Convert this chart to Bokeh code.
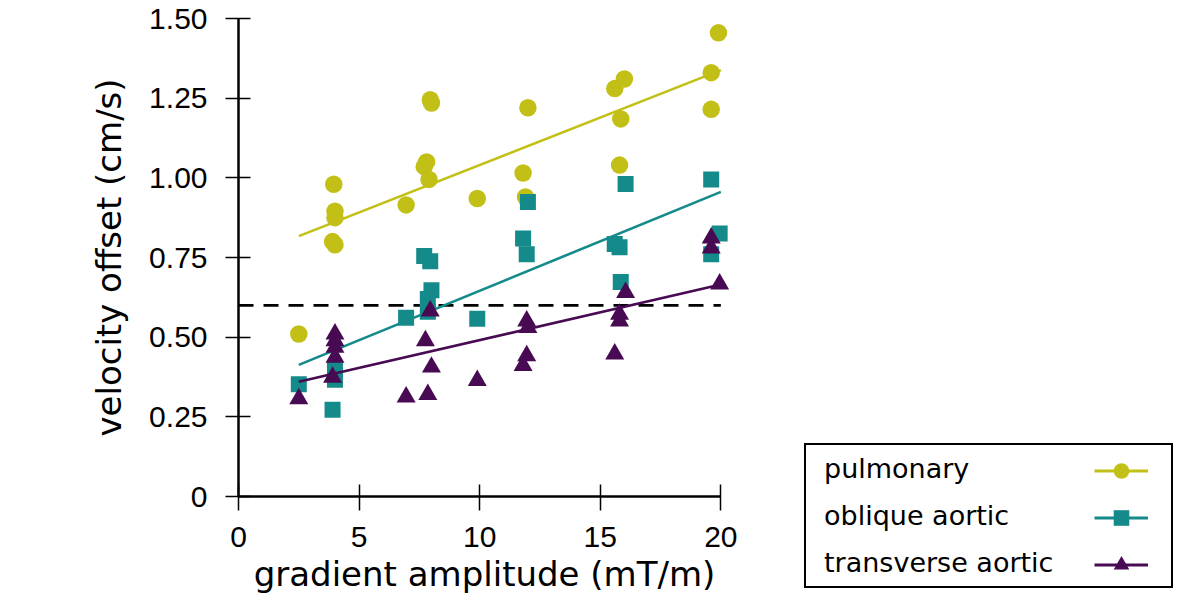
from bokeh.plotting import figure
from bokeh.layouts import row
from bokeh.models import Range1d, FixedTicker, Legend, LegendItem
from bokeh.embed import file_html
from bokeh.resources import INLINE

# ---- data ----
series_names = ["pulmonary", "oblique aortic", "transverse aortic"]

pulm_x = [2.5, 3.95, 4.0, 4.0, 3.9, 4.0, 6.95, 7.95, 8.0, 7.8, 7.7, 7.9, 9.9,
          12.0, 11.8, 11.9, 16.0, 15.6, 15.85, 15.8, 19.9, 19.6, 19.6]
pulm_y = [0.51, 0.98, 0.895, 0.875, 0.80, 0.79, 0.915, 1.245, 1.235, 1.05, 1.035, 0.995, 0.935,
          1.22, 1.015, 0.94, 1.31, 1.28, 1.185, 1.04, 1.455, 1.33, 1.215]

obl_x = [2.5, 3.9, 4.0, 4.0, 6.95, 7.7, 7.95, 8.0, 7.85, 7.85, 9.9,
         12.0, 11.8, 11.95, 16.05, 15.6, 15.8, 15.85, 19.6, 19.95, 19.6]
obl_y = [0.352, 0.272, 0.366, 0.40, 0.561, 0.755, 0.738, 0.647, 0.62, 0.58, 0.558,
         0.924, 0.81, 0.76, 0.981, 0.792, 0.782, 0.673, 0.995, 0.825, 0.76]

trans_x = [2.5, 4.0, 4.0, 4.0, 4.0, 3.9, 6.95, 7.85, 7.75, 7.95, 8.0, 9.9,
           11.95, 12.0, 11.95, 11.8, 16.05, 15.8, 15.8, 15.6, 19.6, 19.6, 19.95]
trans_y = [0.307, 0.51, 0.489, 0.468, 0.437, 0.374, 0.312, 0.32, 0.489, 0.582, 0.406, 0.364,
           0.551, 0.53, 0.442, 0.411, 0.64, 0.572, 0.551, 0.447, 0.811, 0.78, 0.667]

fit_x = [2.5, 20.0]
pulm_fit = [0.817, 1.338]
obl_fit = [0.413, 0.956]
trans_fit = [0.36, 0.665]

threshold_x = [0.0, 20.0]
threshold_y = [0.6, 0.6]

x_ticks = [0, 5, 10, 15, 20]
y_ticks = [0.0, 0.25, 0.5, 0.75, 1.0, 1.25, 1.5]
y_tick_labels = ["0", "0.25", "0.50", "0.75", "1.00", "1.25", "1.50"]

colors = ["#c2c016", "#148a8a", "#480a52"]
markers = ["circle", "square", "triangle"]
marker_sizes = [17.5, 16, 19]

series = [(pulm_x, pulm_y, pulm_fit), (obl_x, obl_y, obl_fit), (trans_x, trans_y, trans_fit)]

# ---- main figure ----
p = figure(width=790, height=596, output_backend="svg", toolbar_location=None,
           x_range=Range1d(0, 20.4), y_range=Range1d(0, 1.5),
           min_border_left=238, min_border_right=60, min_border_top=18, min_border_bottom=97)
p.outline_line_color = None
p.grid.visible = False
p.background_fill_color = "white"
p.border_fill_color = "white"

for ax in (p.xaxis[0], p.yaxis[0]):
    ax.axis_line_width = 2.5
    ax.axis_line_color = "black"
    ax.major_tick_line_width = 1.5
    ax.major_tick_line_color = "black"
    ax.major_tick_in = 12
    ax.major_tick_out = 13
    ax.minor_tick_line_color = None
    ax.major_label_text_font = "Liberation Sans"
    ax.major_label_text_font_size = "30px"
    ax.major_label_text_color = "black"
    ax.axis_label_text_font = "DejaVu Sans"
    ax.axis_label_text_font_size = "34px"
    ax.axis_label_text_font_style = "normal"
    ax.axis_label_text_color = "black"

p.xaxis.bounds = (0, 20)
p.yaxis.bounds = (0, 1.5)
p.xaxis.ticker = FixedTicker(ticks=x_ticks)
p.yaxis.ticker = FixedTicker(ticks=y_ticks)
p.yaxis.major_label_overrides = dict(zip(y_ticks, y_tick_labels))
p.xaxis.axis_label = "gradient amplitude (mT/m)"
p.yaxis.axis_label = "velocity offset (cm/s)"
p.xaxis.major_tick_out = 14
p.xaxis.major_label_standoff = 16
p.yaxis.major_label_standoff = 18
p.xaxis.axis_label_standoff = 4
p.yaxis.axis_label_standoff = 17

# dashed reference line
p.line(threshold_x, threshold_y, line_color="black", line_width=2.8, line_dash="15 10")

# series
for (xs, ys, fit), c, m, s in zip(series, colors, markers, marker_sizes):
    p.line(fit_x, fit, line_color=c, line_width=2.6)
    p.scatter(xs, ys, marker=m, size=s, fill_color=c, line_color=None)

# ---- legend panel (separate figure so it is not clipped by the main frame) ----
q = figure(width=394, height=596, output_backend="svg", toolbar_location=None,
           x_range=Range1d(-2, -1), y_range=Range1d(0, 1),
           x_axis_location=None, y_axis_location=None,
           min_border_left=0, min_border_right=0, min_border_top=0, min_border_bottom=0)
q.outline_line_color = None
q.grid.visible = False
q.background_fill_color = "white"
q.border_fill_color = "white"

for fig in (p, q):
    if "frame_align" in fig.properties():
        fig.frame_align = False

dummy = q.line(x=[], y=[], line_alpha=0)
leg_text = Legend(items=[LegendItem(label=n, renderers=[dummy]) for n in series_names],
                  location=(14, 8), orientation="vertical",
                  border_line_color="black", border_line_width=2.5, border_line_alpha=1,
                  background_fill_color="white", background_fill_alpha=1,
                  padding=8, spacing=16, label_height=31, glyph_height=31, glyph_width=1,
                  label_standoff=9, label_width=339, margin=0,
                  label_text_font="DejaVu Sans", label_text_font_size="27px",
                  label_text_color="black")
q.add_layout(leg_text, "center")

# legend glyph renderers reuse the series data; q's x range keeps them off-canvas
glyph_items = []
for (xs, ys, fit), c, m, s in zip(series, colors, markers, marker_sizes):
    lr = q.line(fit_x, fit, line_color=c, line_width=3)
    sr = q.scatter(xs, ys, marker=m, size=s, fill_color=c, line_color=None)
    glyph_items.append(LegendItem(label=" ", renderers=[lr, sr]))
leg_glyph = Legend(items=glyph_items, location=(300, 8), orientation="vertical",
                   border_line_alpha=0, background_fill_alpha=0,
                   padding=4, spacing=8, label_height=39, glyph_height=39, glyph_width=54,
                   label_standoff=0, label_width=0, margin=0,
                   label_text_font_size="27px")
q.add_layout(leg_glyph, "center")

layout = row(p, q)
open("out.html", "w").write(file_html(layout, INLINE))
